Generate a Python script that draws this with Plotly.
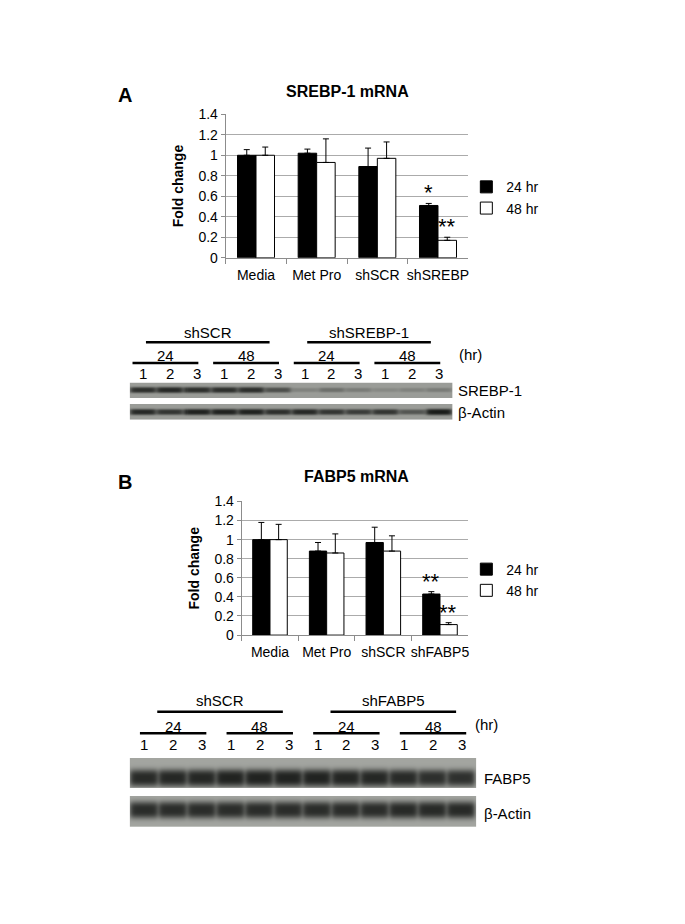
import numpy as np
import plotly.graph_objects as go

W, H = 685, 924
FONT = "Liberation Sans, Arial, sans-serif"

# ---- bar chart data ----
groups_a = ["Media", "Met Pro", "shSCR", "shSREBP"]
srebp_24 = [1.0, 1.02, 0.89, 0.51]
srebp_24_err = [0.055, 0.04, 0.18, 0.02]
srebp_48 = [1.0, 0.93, 0.97, 0.17]
srebp_48_err = [0.08, 0.23, 0.16, 0.03]
srebp_sig_24 = ["", "", "", "*"]
srebp_sig_48 = ["", "", "", "**"]

groups_b = ["Media", "Met Pro", "shSCR", "shFABP5"]
fabp5_24 = [1.0, 0.88, 0.97, 0.43]
fabp5_24_err = [0.18, 0.09, 0.16, 0.025]
fabp5_48 = [1.0, 0.86, 0.88, 0.11]
fabp5_48_err = [0.16, 0.20, 0.16, 0.02]
fabp5_sig_24 = ["", "", "", "**"]
fabp5_sig_48 = ["", "", "", "**"]

# ---- western blot lane band strength (0 = none, 1 = darkest) ----
lane_numbers = ["1", "2", "3"] * 4
time_labels = ["24", "48", "24", "48"]
blot_a_groups = ["shSCR", "shSREBP-1"]
blot_a_srebp = [0.85, 0.9, 0.85, 0.85, 0.85, 0.6, 0.2, 0.35, 0.25, 0.15, 0.2, 0.25]
blot_a_actin = [0.9, 0.8, 0.95, 0.95, 0.95, 0.85, 0.9, 0.8, 0.75, 0.8, 0.55, 1.0]
blot_b_groups = ["shSCR", "shFABP5"]
blot_b_fabp5 = [0.9, 0.92, 0.92, 0.95, 0.95, 0.95, 0.95, 0.93, 0.92, 0.9, 0.86, 0.85]
blot_b_actin = [0.88, 0.88, 0.88, 0.88, 0.88, 0.88, 0.88, 0.88, 0.88, 0.9, 0.9, 0.9]

OFF = 8  # page body margin


def px(x):
    return (x - OFF) / W


def py(y):
    return 1 - (y - OFF) / H


def strip(levels, top, bottom, centre, half, bg, xs):
    ys = np.arange(top, bottom) + 0.5
    z = np.full((len(ys), len(xs)), bg)
    for lane, lvl in zip(range(1, 13), levels):
        hx = 1 / (1 + np.exp((np.abs(xs - lane) - 0.47) / 0.05))
        vy = np.exp(-np.abs((ys - centre) / (half * (0.6 + 0.4 * lvl))) ** 3)
        z -= lvl * (bg - 0.04) * np.outer(vy, hx)
    return ys, z


def blot(levels1, levels2, rows1, rows2, half, bg, width):
    xs = np.linspace(0.5, 12.5, width)
    y1, z1 = strip(levels1, rows1[0], rows1[1], rows1[2], half, bg, xs)
    y2, z2 = strip(levels2, rows2[0], rows2[1], rows2[2], half, bg, xs)
    gy = np.arange(rows1[1], rows2[0]) + 0.5
    gz = np.full((len(gy), len(xs)), np.nan)
    return xs, np.concatenate([y1, gy, y2]), np.vstack([z1, gz, z2])


fig = go.Figure()

# panel A bars
fig.add_trace(go.Bar(
    x=groups_a, y=srebp_24, name="24 hr", xaxis="x", yaxis="y", legend="legend",
    marker=dict(color="black", line=dict(color="black", width=1)),
    error_y=dict(type="data", array=srebp_24_err, arrayminus=[0] * 4, symmetric=False,
                 color="black", thickness=1, width=3)))
fig.add_trace(go.Bar(
    x=groups_a, y=srebp_48, name="48 hr", xaxis="x", yaxis="y", legend="legend",
    marker=dict(color="white", line=dict(color="black", width=1)),
    error_y=dict(type="data", array=srebp_48_err, arrayminus=[0] * 4, symmetric=False,
                 color="black", thickness=1, width=3)))

# panel B bars
fig.add_trace(go.Bar(
    x=groups_b, y=fabp5_24, name="24 hr", xaxis="x2", yaxis="y2", legend="legend2",
    marker=dict(color="black", line=dict(color="black", width=1)),
    error_y=dict(type="data", array=fabp5_24_err, arrayminus=[0] * 4, symmetric=False,
                 color="black", thickness=1, width=3)))
fig.add_trace(go.Bar(
    x=groups_b, y=fabp5_48, name="48 hr", xaxis="x2", yaxis="y2", legend="legend2",
    marker=dict(color="white", line=dict(color="black", width=1)),
    error_y=dict(type="data", array=fabp5_48_err, arrayminus=[0] * 4, symmetric=False,
                 color="black", thickness=1, width=3)))

grey = [[0, "#111311"], [1, "#eef0ea"]]

xs, ys, z = blot(blot_a_srebp, blot_a_actin, (381, 397, 389), (403, 419, 411), 3.2, 0.62, 323)
fig.add_trace(go.Heatmap(x=xs, y=ys, z=z, xaxis="x3", yaxis="y3", colorscale=grey,
                         zmin=0, zmax=1, showscale=False, hoverinfo="skip"))
xs, ys, z = blot(blot_b_fabp5, blot_b_actin, (763, 794, 783), (802, 833, 816), 9.0, 0.66, 347)
fig.add_trace(go.Heatmap(x=xs, y=ys, z=z, xaxis="x4", yaxis="y4", colorscale=grey,
                         zmin=0, zmax=1, showscale=False, hoverinfo="skip"))

bar_x = dict(type="category", showline=True, linecolor="#8c8c8c", ticks="outside",
             tickson="boundaries", ticklen=5, tickcolor="#8c8c8c", showgrid=False,
             tickangle=0, ticklabelstandoff=4, tickfont=dict(size=14, color="black"))
bar_y = dict(range=[0, 1.4], dtick=0.2, showgrid=True, gridcolor="#ababab", zeroline=False,
             showline=True, linecolor="#8c8c8c", ticks="outside", ticklen=4, tickcolor="#8c8c8c",
             tickfont=dict(size=14, color="black"),
             title=dict(text="<b>Fold change</b>", font=dict(size=14, color="black"), standoff=11))
blot_x = dict(range=[0.5, 12.5], visible=False)

fig.update_layout(
    width=W, height=H, margin=dict(l=0, r=0, t=0, b=0),
    paper_bgcolor="white", plot_bgcolor="white",
    font=dict(family=FONT, color="black"),
    barmode="group", bargap=0.39, bargroupgap=0,
    xaxis=dict(domain=[px(226), px(469)], anchor="y", **bar_x),
    yaxis=dict(domain=[py(254), py(108)], anchor="x", **bar_y),
    xaxis2=dict(domain=[px(242), px(469)], anchor="y2", **bar_x),
    yaxis2=dict(domain=[py(638), py(502)], anchor="x2", **bar_y),
    xaxis3=dict(domain=[px(130), px(453)], anchor="y3", **blot_x),
    yaxis3=dict(domain=[py(419), py(381)], anchor="x3", range=[419, 381], visible=False),
    xaxis4=dict(domain=[px(130), px(477)], anchor="y4", **blot_x),
    yaxis4=dict(domain=[py(833), py(763)], anchor="x4", range=[833, 763], visible=False),
    legend=dict(x=px(467), y=py(166), xanchor="left", yanchor="top", font=dict(size=14),
                bgcolor="rgba(0,0,0,0)", tracegroupgap=0),
    legend2=dict(x=px(467), y=py(555), xanchor="left", yanchor="top", font=dict(size=14),
                 bgcolor="rgba(0,0,0,0)", tracegroupgap=0),
    showlegend=True,
)

ann = []


def text(x, y, s, size=14, bold=False, xanchor="center", xref="paper"):
    ann.append(dict(x=x if xref != "paper" else px(x), y=py(y), xref=xref, yref="paper",
                    text="<b>%s</b>" % s if bold else s, showarrow=False,
                    font=dict(size=size, color="black"), xanchor=xanchor, yanchor="middle"))


# panel letters and titles
text(125, 88, "A", size=20, bold=True)
text(348, 85, "SREBP-1 mRNA", size=16, bold=True)
text(125, 482, "B", size=20, bold=True)
text(357, 477, "FABP5 mRNA", size=16, bold=True)

# significance stars
for xa, ya, groups, vals, errs, sig, shift in [
    ("x", "y", groups_a, srebp_24, srebp_24_err, srebp_sig_24, -9.5),
    ("x", "y", groups_a, srebp_48, srebp_48_err, srebp_sig_48, 9.5),
    ("x2", "y2", groups_b, fabp5_24, fabp5_24_err, fabp5_sig_24, -8.5),
    ("x2", "y2", groups_b, fabp5_48, fabp5_48_err, fabp5_sig_48, 8.5),
]:
    for g, v, e, s in zip(groups, vals, errs, sig):
        if s:
            ann.append(dict(x=g, y=v + e, xref=xa, yref=ya, text=s, showarrow=False,
                            xshift=shift, yshift=-4, yanchor="bottom",
                            font=dict(size=22, color="black")))

shapes = []
# blot headers
for xa, groups, lane_y, time_y, tline_y, grp_y, gline_y, tspan, gspan, hr, labels in [
    ("x3", blot_a_groups, 372, 353, 361, 330, 340, (0.6, 3.05), (1.1, 5.7), (458, 352),
     [("SREBP-1", 389), ("\u03b2-Actin", 411)]),
    ("x4", blot_b_groups, 749, 731, 738, 705, 716, (0.85, 3.15), (1.45, 5.8), (474, 729),
     [("FABP5", 784), ("\u03b2-Actin", 820)]),
]:
    for i, n in enumerate(lane_numbers):
        text(i + 1, lane_y, n, size=15, xref=xa)
    for g, t in enumerate(time_labels):
        a, b = g * 3 + tspan[0], g * 3 + tspan[1]
        text((a + b) / 2, time_y, t, size=15, xref=xa)
        shapes.append(dict(type="line", xref=xa, yref="paper", x0=a, x1=b,
                           y0=py(tline_y), y1=py(tline_y), line=dict(color="black", width=2.5)))
    for g, name in enumerate(groups):
        a, b = g * 6 + gspan[0], g * 6 + gspan[1]
        text((a + b) / 2, grp_y, name, size=15, xref=xa)
        shapes.append(dict(type="line", xref=xa, yref="paper", x0=a, x1=b,
                           y0=py(gline_y), y1=py(gline_y), line=dict(color="black", width=2.5)))
    text(hr[0], hr[1], "(hr)", size=15, xanchor="left")
    blot_right = 455 if xa == "x3" else 481
    for lab, yy in labels:
        text(blot_right + 2, yy, lab, size=15, xanchor="left")

fig.update_layout(annotations=ann, shapes=shapes)
fig.write_html("out.html")
